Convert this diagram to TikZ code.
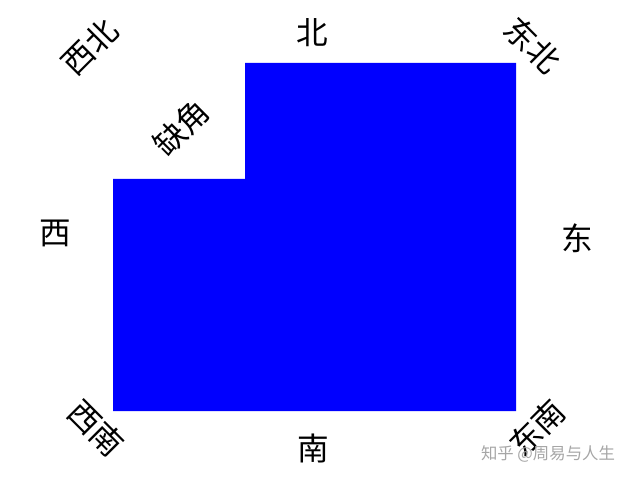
\documentclass[tikz,border=0pt]{standalone}
\usepackage{fontspec}
\newfontfamily\cjk{Noto Sans CJK SC}
\usetikzlibrary{shapes}

\begin{document}
\begin{tikzpicture}[x=0.03cm,y=-0.03cm]
          \tikzstyle{every node}+=[inner sep=0pt]
          \tikzstyle{dir}=[font=\cjk\fontsize{27}{27}\selectfont]
          \tikzstyle{wmark}=[font=\cjk\fontsize{14}{14}\selectfont, text=black!35]
          \useasboundingbox (0,0) rectangle (640,480);
          \fill [blue] (245,63) -- (516,63) -- (516,411) -- (113,411) -- (113,179) -- (245,179) -- cycle;
          \draw (312,33) node[dir] (bei) {北};
          \draw (90,47) node[dir, rotate=45] (xibei) {西北};
          \draw (533,45) node[dir, rotate=-45] (dongbei) {东北};
          \draw (181,128) node[dir, rotate=45] (quejiao) {缺角};
          \draw (55,233) node[dir] (xi) {西};
          \draw (577,238) node[dir] (dong) {东};
          \draw (96,428) node[dir, rotate=-45] (xinan) {西南};
          \draw (313,448) node[dir] (nan) {南};
          \draw (537,428) node[dir, rotate=45] (dongnan) {东南};
          \draw (548,454) node[wmark] (zhihu) {知乎 @周易与人生};
        \end{tikzpicture}
\end{document}
